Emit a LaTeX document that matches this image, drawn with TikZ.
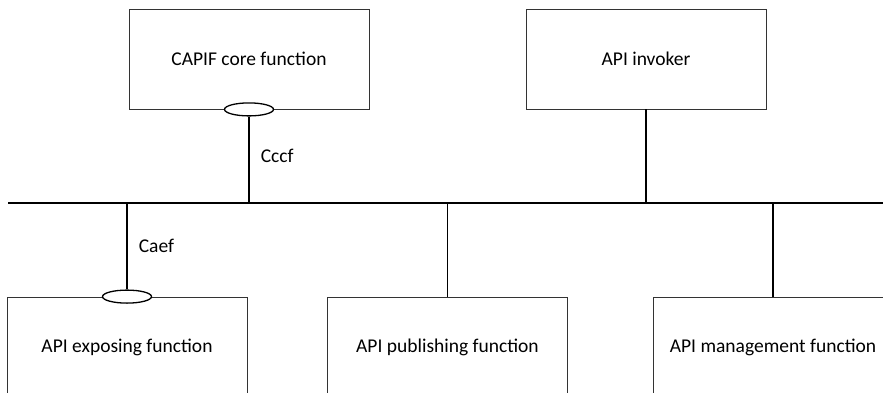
\documentclass[tikz,border=0pt]{standalone}
\usepackage{fontspec}
\setmainfont{Carlito}
\usetikzlibrary{shapes.geometric, positioning}
\begin{document}
\begin{tikzpicture}[x=1pt, y=-1pt, font=\fontsize{19.5}{23}\selectfont]
    \tikzstyle{func} = [draw=black!80, line width=0.8pt, minimum width=240pt, minimum height=100pt, inner sep=0pt, text centered]
    \tikzstyle{port} = [draw, ellipse, line width=1.3pt, fill=white, minimum width=49pt, minimum height=13pt, inner sep=0pt]
    \tikzstyle{link} = [line width=1.6pt]
    \useasboundingbox (0,0) rectangle (883,392);
    \clip (0,0) rectangle (883,392);
    % bus
    \coordinate (busL) at (8,203);
    \coordinate (busR) at (883,203);
    \draw [link] (busL) -- (busR);
    % upper functions
    \node [func] at (249,59) (ccf) {CAPIF core function};
    \node [func] at (646,59) (invoker) {API invoker};
    \node [port] at (ccf.south) (cccf) {};
    \draw [link] (cccf.south) -- (cccf.south |- busL)
        node [midway, right, inner sep=0pt, xshift=11pt, yshift=4pt] {Cccf};
    \draw [link] (invoker.south) -- (invoker.south |- busL);
    % lower functions
    \node [func] at (127,347) (aef) {API exposing function};
    \node [func] at (447.5,347) (apf) {API publishing function};
    \node [func] at (773,347) (amf) {API management function};
    \node [port] at (aef.north) (caef) {};
    \draw [link] (caef.north |- busL) -- (caef.north)
        node [midway, right, inner sep=0pt, xshift=11pt] {Caef};
    \draw [link] (apf.north |- busL) -- (apf.north);
    \draw [link] (amf.north |- busL) -- (amf.north);
\end{tikzpicture}
\end{document}
